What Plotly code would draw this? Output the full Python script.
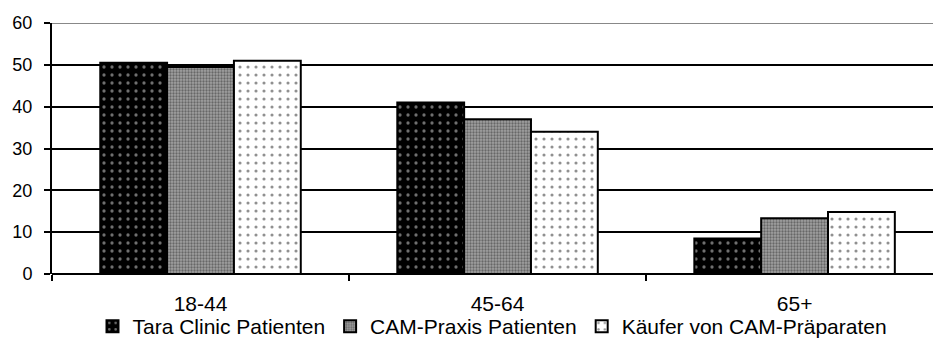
import plotly.graph_objects as go

# Altersgruppen und Anteile (%)
categories = ["18-44", "45-64", "65+"]
tara_clinic = [50.5, 41.0, 8.5]
cam_praxis = [49.5, 37.0, 13.3]
kaeufer_cam = [51.0, 34.0, 14.8]
series_names = ["Tara Clinic Patienten", "CAM-Praxis Patienten", "Käufer von CAM-Präparaten"]
y_ticks = [0, 10, 20, 30, 40, 50, 60]

FONT = "Liberation Sans, Arial, sans-serif"

styles = [
    dict(shape=".", fgcolor="#dddddd", bgcolor="black", size=8, solidity=0.13),
    dict(shape=".", fgcolor="#2e2e2e", bgcolor="#a0a0a0", size=3, solidity=0.45),
    dict(shape=".", fgcolor="#222222", bgcolor="white", size=8, solidity=0.12),
]

fig = go.Figure()
for name, vals, pat in zip(series_names, [tara_clinic, cam_praxis, kaeufer_cam], styles):
    fig.add_trace(go.Bar(
        x=categories, y=vals, name=name,
        marker=dict(color=pat["bgcolor"], pattern=pat,
                    line=dict(color="black", width=2)),
    ))

fig.update_layout(
    width=933, height=340,
    margin=dict(l=52, r=0, t=23, b=66, autoexpand=False),
    paper_bgcolor="white", plot_bgcolor="white",
    barmode="group", bargap=0.325, bargroupgap=0,
    font=dict(family=FONT, size=21, color="black"),
    showlegend=True,
    legend=dict(orientation="h", xref="paper", x=0.5, xanchor="center",
                yref="container", y=0.1, yanchor="top",
                font=dict(size=21), itemwidth=30, tracegroupgap=0,
                itemclick=False, bgcolor="rgba(0,0,0,0)"),
    xaxis=dict(range=[-0.5, 2.466], showgrid=False, showline=False,
               ticks="outside", tickson="boundaries", ticklen=6, tickwidth=2,
               tickcolor="black", tickfont=dict(size=21), ticklabelstandoff=15),
    yaxis=dict(range=[0, 60], tickvals=y_ticks, showgrid=True, gridcolor="black",
               gridwidth=2, zeroline=True, zerolinecolor="black", zerolinewidth=2,
               showline=True, linecolor="black", linewidth=2,
               ticks="outside", ticklen=6, tickwidth=2, tickcolor="black",
               tickfont=dict(size=18), ticklabelstandoff=8),
    shapes=[dict(type="line", xref="paper", yref="y", x0=0, x1=1, y0=60, y1=60,
                 line=dict(color="#888888", width=2), layer="above")],
)

fig.write_html("out.html")
